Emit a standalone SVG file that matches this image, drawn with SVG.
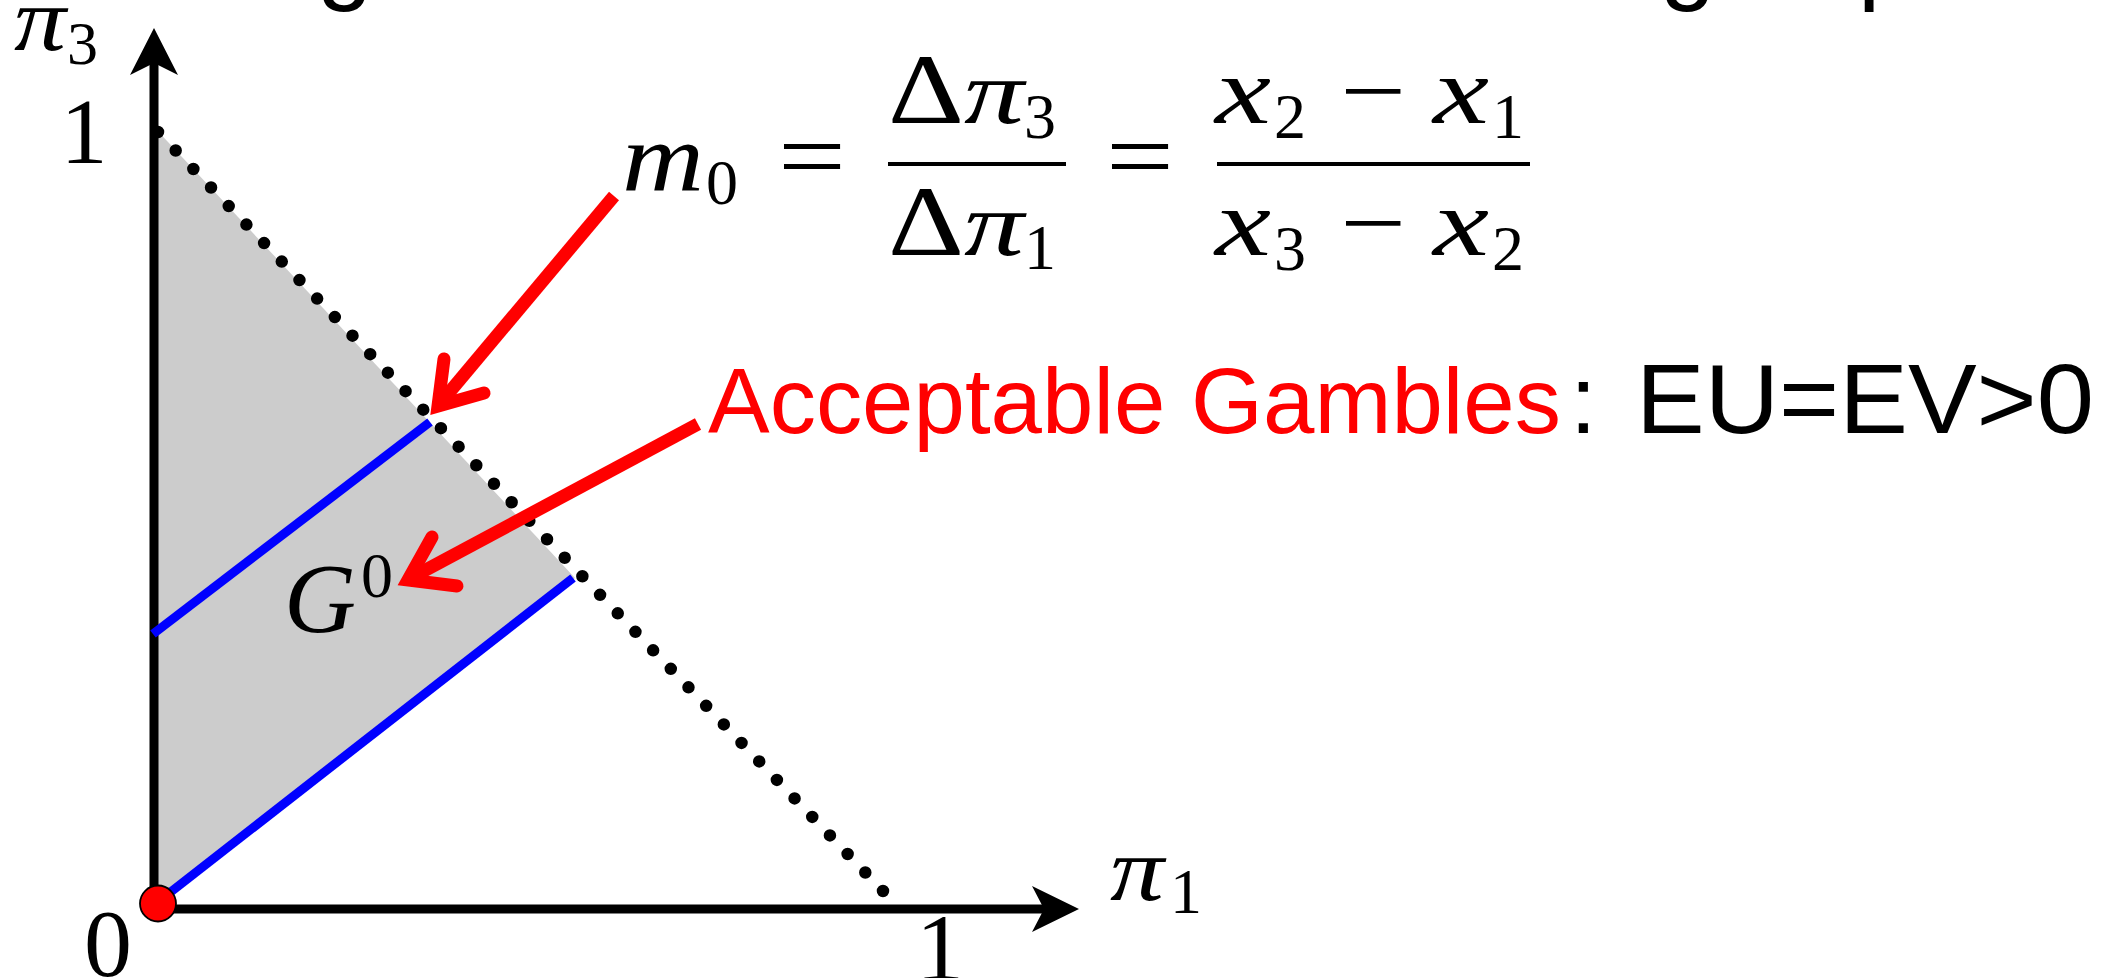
<svg xmlns="http://www.w3.org/2000/svg" width="2116" height="978" viewBox="0 0 2116 978">
<style>
.it{font-family:"Liberation Serif","DejaVu Serif",serif;font-style:italic;fill:#000}
.rm{font-family:"Liberation Serif","DejaVu Serif",serif;fill:#000}
.sans{font-family:"Liberation Sans","DejaVu Sans",sans-serif}
.axis{stroke:#000;stroke-width:9;fill:none}
.blue{stroke:#0000ff;stroke-width:9;fill:none}
.rl{stroke:#ff0000;stroke-width:13;fill:none;stroke-linecap:butt}
.rb{stroke:#ff0000;stroke-width:13;fill:none;stroke-linecap:round;stroke-linejoin:miter;stroke-miterlimit:6}
</style>
<rect width="2116" height="978" fill="#fff"/>
<g id="title-fragments" class="sans" font-size="100" fill="#000">
<text x="317" y="-9">g</text>
<text x="1660" y="-9">g</text>
<text x="1858" y="-9">p</text>
</g>
<g id="region">
<polygon points="154,127 575,578 163,900 154,900" fill="#cccccc"/>
</g>
<g id="budget-line">
<path d="M158,132 L883,891" stroke="#000" stroke-width="12.5" stroke-linecap="round" stroke-dasharray="0 25.6" fill="none"/>
</g>
<g id="axes">
<path class="axis" d="M154,908 L154,62"/>
<path d="M154,28 L178,75 L154,63 L130,75 Z" fill="#000"/>
<path class="axis" d="M150,909 L1046,909"/>
<path d="M1079,909 L1032,886 L1044,909 L1032,932 Z" fill="#000"/>
</g>
<g id="indifference-lines">
<path class="blue" d="M153,634 L430,422"/>
<path class="blue" d="M163,898 L573,578"/>
</g>
<g id="origin">
<circle cx="158" cy="903.5" r="18" fill="#ff0000" stroke="#000" stroke-width="1.8"/>
</g>
<g id="axis-labels">
<text class="it" x="14" y="50" font-size="90" textLength="52" lengthAdjust="spacingAndGlyphs">π</text>
<text class="rm" x="67" y="64" font-size="62">3</text>
<text class="rm" x="84" y="163" font-size="94" text-anchor="middle">1</text>
<text class="rm" x="108" y="976" font-size="96" text-anchor="middle">0</text>
<text class="rm" x="940" y="980" font-size="96" text-anchor="middle">1</text>
<text class="it" x="1110" y="900" font-size="90" textLength="54" lengthAdjust="spacingAndGlyphs">π</text>
<text class="rm" x="1170" y="913" font-size="64">1</text>
</g>
<g id="g0-label">
<text class="it" x="284" y="632" font-size="100" textLength="72" lengthAdjust="spacingAndGlyphs">G</text>
<text class="rm" x="361" y="597" font-size="64">0</text>
</g>
<g id="formula">
<text class="it" x="622" y="190" font-size="98" textLength="82" lengthAdjust="spacingAndGlyphs">m</text>
<text class="rm" x="706" y="204" font-size="64">0</text>
<text class="rm" x="778" y="190" font-size="100" textLength="68" lengthAdjust="spacingAndGlyphs">=</text>
<line x1="888" y1="164" x2="1066" y2="164" stroke="#000" stroke-width="4"/>
<text class="rm" x="888" y="123" font-size="100" textLength="76" lengthAdjust="spacingAndGlyphs">Δ</text>
<text class="it" x="964" y="123" font-size="90" textLength="60" lengthAdjust="spacingAndGlyphs">π</text>
<text class="rm" x="1024" y="138" font-size="64">3</text>
<text class="rm" x="888" y="255" font-size="100" textLength="76" lengthAdjust="spacingAndGlyphs">Δ</text>
<text class="it" x="964" y="255" font-size="90" textLength="60" lengthAdjust="spacingAndGlyphs">π</text>
<text class="rm" x="1024" y="269" font-size="64">1</text>
<text class="rm" x="1106" y="190" font-size="100" textLength="68" lengthAdjust="spacingAndGlyphs">=</text>
<line x1="1217" y1="164" x2="1530" y2="164" stroke="#000" stroke-width="4"/>
<text class="it" x="1215" y="123" font-size="96" textLength="56" lengthAdjust="spacingAndGlyphs">x</text>
<text class="rm" x="1274" y="138" font-size="64">2</text>
<text class="rm" x="1340" y="123" font-size="96" textLength="66" lengthAdjust="spacingAndGlyphs">−</text>
<text class="it" x="1433" y="123" font-size="96" textLength="56" lengthAdjust="spacingAndGlyphs">x</text>
<text class="rm" x="1492" y="138" font-size="64">1</text>
<text class="it" x="1215" y="255" font-size="96" textLength="56" lengthAdjust="spacingAndGlyphs">x</text>
<text class="rm" x="1274" y="270" font-size="64">3</text>
<text class="rm" x="1340" y="255" font-size="96" textLength="66" lengthAdjust="spacingAndGlyphs">−</text>
<text class="it" x="1433" y="255" font-size="96" textLength="56" lengthAdjust="spacingAndGlyphs">x</text>
<text class="rm" x="1492" y="270" font-size="64">2</text>
</g>
<g id="acceptable-label" class="sans">
<text x="708" y="433" font-size="92.5" fill="#ff0000" textLength="853" lengthAdjust="spacingAndGlyphs">Acceptable Gambles</text>
<text x="1570" y="433" font-size="96" fill="#000">:</text>
<text x="1636" y="433" font-size="98" fill="#000" textLength="458" lengthAdjust="spacingAndGlyphs">EU=EV&gt;0</text>
</g>
<g id="connectors">
<path class="rl" d="M614,196 L437,407"/>
<path class="rb" d="M444,359 L438,406 L484,393"/>
<path class="rl" d="M698,424 L407,580"/>
<path class="rb" d="M432,537 L408,580 L457,586"/>
</g>
</svg>
